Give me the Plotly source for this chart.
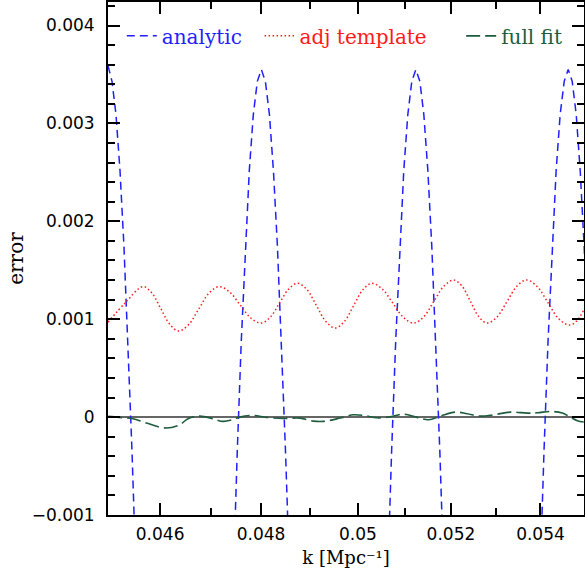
import math
import plotly.graph_objects as go

# ---- data ----
analytic_k = [0.045000, 0.045076, 0.045152, 0.045228, 0.045304, 0.045380, 0.045457, 0.045533, 0.045647, 0.046478,
              0.047320, 0.047440, 0.047521, 0.047601, 0.047682, 0.047762, 0.047843, 0.047924, 0.048006, 0.048087,
              0.048169, 0.048250, 0.048332, 0.048414, 0.048496, 0.048578, 0.048702, 0.049595,
              0.050500, 0.050630, 0.050716, 0.050803, 0.050890, 0.050976, 0.051063, 0.051149, 0.051236, 0.051323,
              0.051409, 0.051496, 0.051582, 0.051669, 0.051756, 0.051842, 0.051972, 0.052908,
              0.053850, 0.053988, 0.054081, 0.054173, 0.054266, 0.054358, 0.054450, 0.054543, 0.054635, 0.054727,
              0.054820, 0.054912, 0.055004, 0.055097]
analytic_err = [0.00359, 0.00343, 0.00309, 0.00252, 0.00174, 0.00078, -0.00034, -0.00158, -0.00363, -0.0138,
                -0.00363, -0.00158, -0.00034, 0.00078, 0.00174, 0.00252, 0.00309, 0.00343, 0.00355, 0.00343,
                0.00309, 0.00252, 0.00174, 0.00078, -0.00034, -0.00158, -0.00363, -0.0138,
                -0.00363, -0.00158, -0.00034, 0.00078, 0.00174, 0.00252, 0.00309, 0.00343, 0.00355, 0.00343,
                0.00309, 0.00252, 0.00174, 0.00078, -0.00034, -0.00158, -0.00363, -0.0138,
                -0.00363, -0.00158, -0.00034, 0.00078, 0.00174, 0.00252, 0.00309, 0.00343, 0.00355, 0.00343,
                0.00309, 0.00252, 0.00174, 0.00078]

template_k = [0.045000, 0.045333, 0.045667, 0.045841, 0.046014, 0.046188, 0.046361, 0.046560, 0.046758,
              0.046957, 0.047156, 0.047366, 0.047576, 0.047787, 0.047997, 0.048185, 0.048372, 0.048560,
              0.048747, 0.048941, 0.049134, 0.049328, 0.049522, 0.049716, 0.049909, 0.050103, 0.050296,
              0.050519, 0.050742, 0.050965, 0.051188, 0.051406, 0.051624, 0.051843, 0.052061, 0.052246,
              0.052431, 0.052616, 0.052801, 0.053022, 0.053243, 0.053464, 0.053685, 0.053927, 0.054169,
              0.054411, 0.054653, 0.054827, 0.055000]
template_err = [0.00097, 0.00117, 0.001333, 0.001267, 0.001107, 0.000947, 0.00088, 0.000947, 0.001107,
                0.001267, 0.001333, 0.001278, 0.001147, 0.001015, 0.00096, 0.001020, 0.001164, 0.001307,
                0.001367, 0.001300, 0.001139, 0.000977, 0.00091, 0.000977, 0.001139, 0.001300, 0.001367,
                0.001307, 0.001164, 0.001020, 0.00096, 0.001024, 0.00118, 0.001336, 0.00140, 0.001336,
                0.00118, 0.001024, 0.00096, 0.001024, 0.00118, 0.001336, 0.00140, 0.001333, 0.00117,
                0.001007, 0.00094, 0.00098, 0.00110]

fullfit_k = [0.045004, 0.045219, 0.045474, 0.045732, 0.046121, 0.046380, 0.046543, 0.046774, 0.047038,
             0.047237, 0.047437, 0.047571, 0.047840, 0.048111, 0.048450, 0.048795, 0.049070, 0.049277,
             0.049626, 0.049906, 0.050153, 0.050402, 0.050686, 0.050972, 0.051262, 0.051514, 0.051769,
             0.052098, 0.052356, 0.052651, 0.052948, 0.053323, 0.053701, 0.053928, 0.054232, 0.054501,
             0.054692, 0.054847, 0.054994]
fullfit_err = [0.000007, -0.000003, -0.000017, -0.000061, -0.000112, -0.000078, -0.000017, 0.000010, -0.000017,
               -0.000044, -0.000024, 0.000000, 0.000017, -0.000003, -0.000014, -0.000010, -0.000041, -0.000044,
               -0.000010, 0.000024, 0.000014, -0.000007, 0.000003, 0.000030, -0.000003, -0.000027, 0.000010,
               0.000051, 0.000034, 0.000010, 0.000024, 0.000051, 0.000041, 0.000044, 0.000058, 0.000041,
               -0.000003, -0.000037, -0.000050]

series_names = ["analytic", "adj template", "full fit"]

x_limits = [0.045, 0.055]
y_limits = [-0.001, 0.00424]
x_tick_vals = [0.046, 0.048, 0.05, 0.052, 0.054]
x_tick_text = ["0.046", "0.048", "0.05", "0.052", "0.054"]
x_minor_vals = [0.045, 0.047, 0.049, 0.051, 0.053, 0.055]
y_tick_vals = [-0.001, 0, 0.001, 0.002, 0.003, 0.004]
y_tick_text = ["\u22120.001", "0", "0.001", "0.002", "0.003", "0.004"]

BLUE = "#1f1fff"
RED = "#ff1a1a"
GREEN = "#1d5c3c"
PAD_A = "\u00a0\u00a0"
PAD_B = "\u00a0\u00a0\u00a0\u00a0\u2009"


def legend_label(color, text, pad=""):
    return '<span style="color:%s">%s</span>%s' % (color, text, pad)


fig = go.Figure()
fig.add_trace(go.Scatter(
    x=analytic_k, y=analytic_err, mode="lines",
    name=legend_label(BLUE, series_names[0], PAD_A),
    line=dict(color=BLUE, width=1.5, dash="8px,5px")))
fig.add_trace(go.Scatter(
    x=template_k, y=template_err, mode="lines",
    name=legend_label(RED, series_names[1], PAD_B),
    line=dict(color=RED, width=1.5, dash="1.5px,2.5px", shape="spline", smoothing=1)))
fig.add_trace(go.Scatter(
    x=fullfit_k, y=fullfit_err, mode="lines",
    name=legend_label(GREEN, series_names[2]),
    line=dict(color=GREEN, width=1.6, dash="14px,5px", shape="spline", smoothing=1)))

tick_font = dict(family="DejaVu Sans", size=17, color="black")

fig.update_layout(
    width=585, height=571,
    margin=dict(l=108, r=1, t=2, b=56),
    paper_bgcolor="white", plot_bgcolor="white",
    showlegend=True,
    legend=dict(orientation="h", x=0.029, y=0.972, xanchor="left", yanchor="top",
                bgcolor="rgba(0,0,0,0)", font=dict(family="DejaVu Serif", size=20),
                tracegroupgap=0),
    xaxis=dict(
        type="log", range=[math.log10(x_limits[0]), math.log10(x_limits[1])],
        tickmode="array", tickvals=x_tick_vals, ticktext=x_tick_text,
        ticks="inside", ticklen=12, tickwidth=1.5, tickcolor="black",
        minor=dict(tickmode="array", tickvals=x_minor_vals, ticks="inside", ticklen=7,
                   tickwidth=1.5, tickcolor="black", showgrid=False),
        showline=True, linecolor="black", linewidth=2, mirror="ticks",
        showgrid=False, zeroline=False, tickfont=tick_font, ticklabelstandoff=3,
        title=dict(text="k [Mpc\u207b\u00b9]", font=dict(family="DejaVu Serif", size=18, color="black"),
                   standoff=8),
        automargin=False),
    yaxis=dict(
        range=y_limits,
        tickmode="array", tickvals=y_tick_vals, ticktext=y_tick_text,
        ticks="inside", ticklen=12, tickwidth=1.5, tickcolor="black",
        minor=dict(dtick=0.0002, ticks="inside", ticklen=7, tickwidth=1.5,
                   tickcolor="black", showgrid=False),
        showline=True, linecolor="black", linewidth=2, mirror="ticks",
        showgrid=False, zeroline=True, zerolinecolor="#666666", zerolinewidth=1.5,
        tickfont=tick_font, ticklabelstandoff=8,
        title=dict(text="error", font=dict(family="DejaVu Serif", size=20, color="black"), standoff=3),
        automargin=False),
)

fig.write_html("out.html", config={"displayModeBar": False},
               post_script="document.body.style.margin='0';")
